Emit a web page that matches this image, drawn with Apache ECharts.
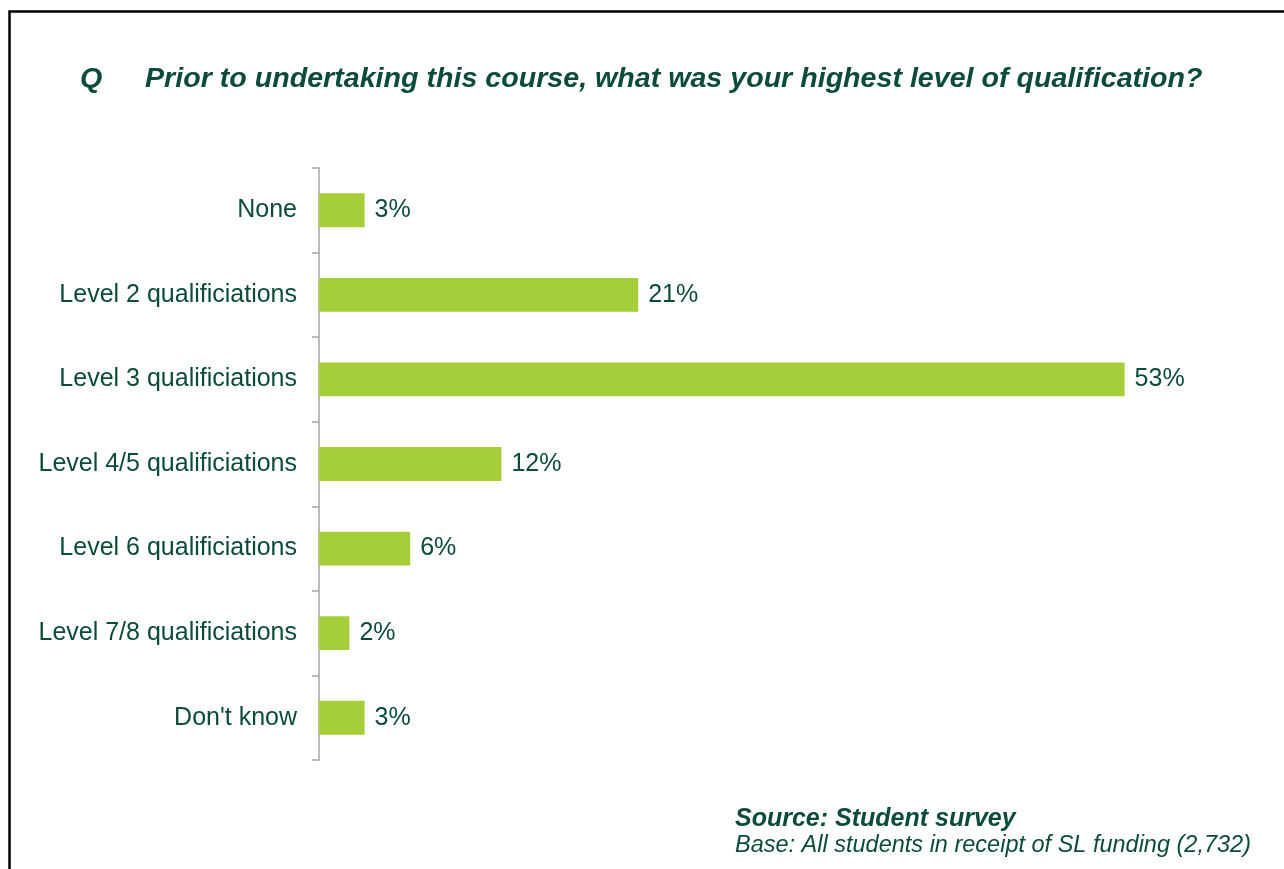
<!DOCTYPE html>
<html>
<head>
<meta charset="utf-8">
<title>Highest level of qualification</title>
<script src="https://cdn.jsdelivr.net/npm/echarts@6/dist/echarts.min.js"></script>
<style>
  html, body { margin: 0; padding: 0; background: #ffffff; }
  #chart { width: 1284px; height: 869px; }
</style>
</head>
<body>
<div id="chart"></div>
<script>
// Survey answers, top to bottom
const categories = [
  'None',
  'Level 2 qualificiations',
  'Level 3 qualificiations',
  'Level 4/5 qualificiations',
  'Level 6 qualificiations',
  'Level 7/8 qualificiations',
  "Don't know"
];
// Share of respondents (%)
const shares = [3, 21, 53, 12, 6, 2, 3];

const titleText = 'Prior to undertaking this course, what was your highest level of qualification?';
const sourceText = 'Source: Student survey';
const baseText = 'Base: All students in receipt of SL funding (2,732)';

const green = '#0b4b3b';
const barColor = '#a6ce39';
const font = 'Arial, "Liberation Sans", sans-serif';

const chart = echarts.init(document.getElementById('chart'), null, { renderer: 'canvas' });

chart.setOption({
  backgroundColor: '#ffffff',
  animation: false,
  grid: { left: 319, top: 168, width: 912, height: 592, containLabel: false },
  xAxis: {
    type: 'value',
    min: 0,
    max: 60,
    show: false
  },
  yAxis: {
    type: 'category',
    data: categories,
    inverse: true,
    axisLine: { show: true, lineStyle: { color: '#a6a6a6', width: 1.5 } },
    axisTick: { show: true, length: 7, lineStyle: { color: '#a6a6a6', width: 1.5 } },
    axisLabel: { color: green, fontSize: 25, fontFamily: font, margin: 22, padding: [4, 0, 0, 0] },
    splitLine: { show: false }
  },
  series: [{
    type: 'bar',
    data: shares,
    barCategoryGap: '60%',
    itemStyle: { color: barColor },
    label: {
      show: true,
      position: 'right',
      distance: 10,
      formatter: '{c}%',
      color: green,
      fontSize: 25,
      fontFamily: font,
      padding: [4, 0, 0, 0]
    }
  }],
  graphic: [
    {
      type: 'rect',
      silent: true,
      shape: { x: 9.5, y: 11.5, width: 1400, height: 1000 },
      style: { fill: 'none', stroke: '#000000', lineWidth: 2.5 }
    },
    {
      type: 'text',
      x: 80, y: 66, scaleX: 1.06,
      style: { text: 'Q', fill: green, font: 'italic bold 27px ' + font }
    },
    {
      type: 'text',
      x: 145, y: 66, scaleX: 1.06,
      style: { text: titleText, fill: green, font: 'italic bold 27px ' + font }
    },
    {
      type: 'text',
      x: 735, y: 807,
      style: { text: sourceText, fill: green, font: 'italic bold 25px ' + font }
    },
    {
      type: 'text',
      x: 735, y: 834,
      style: { text: baseText, fill: green, font: 'italic 23.5px ' + font }
    }
  ]
});
</script>
</body>
</html>
